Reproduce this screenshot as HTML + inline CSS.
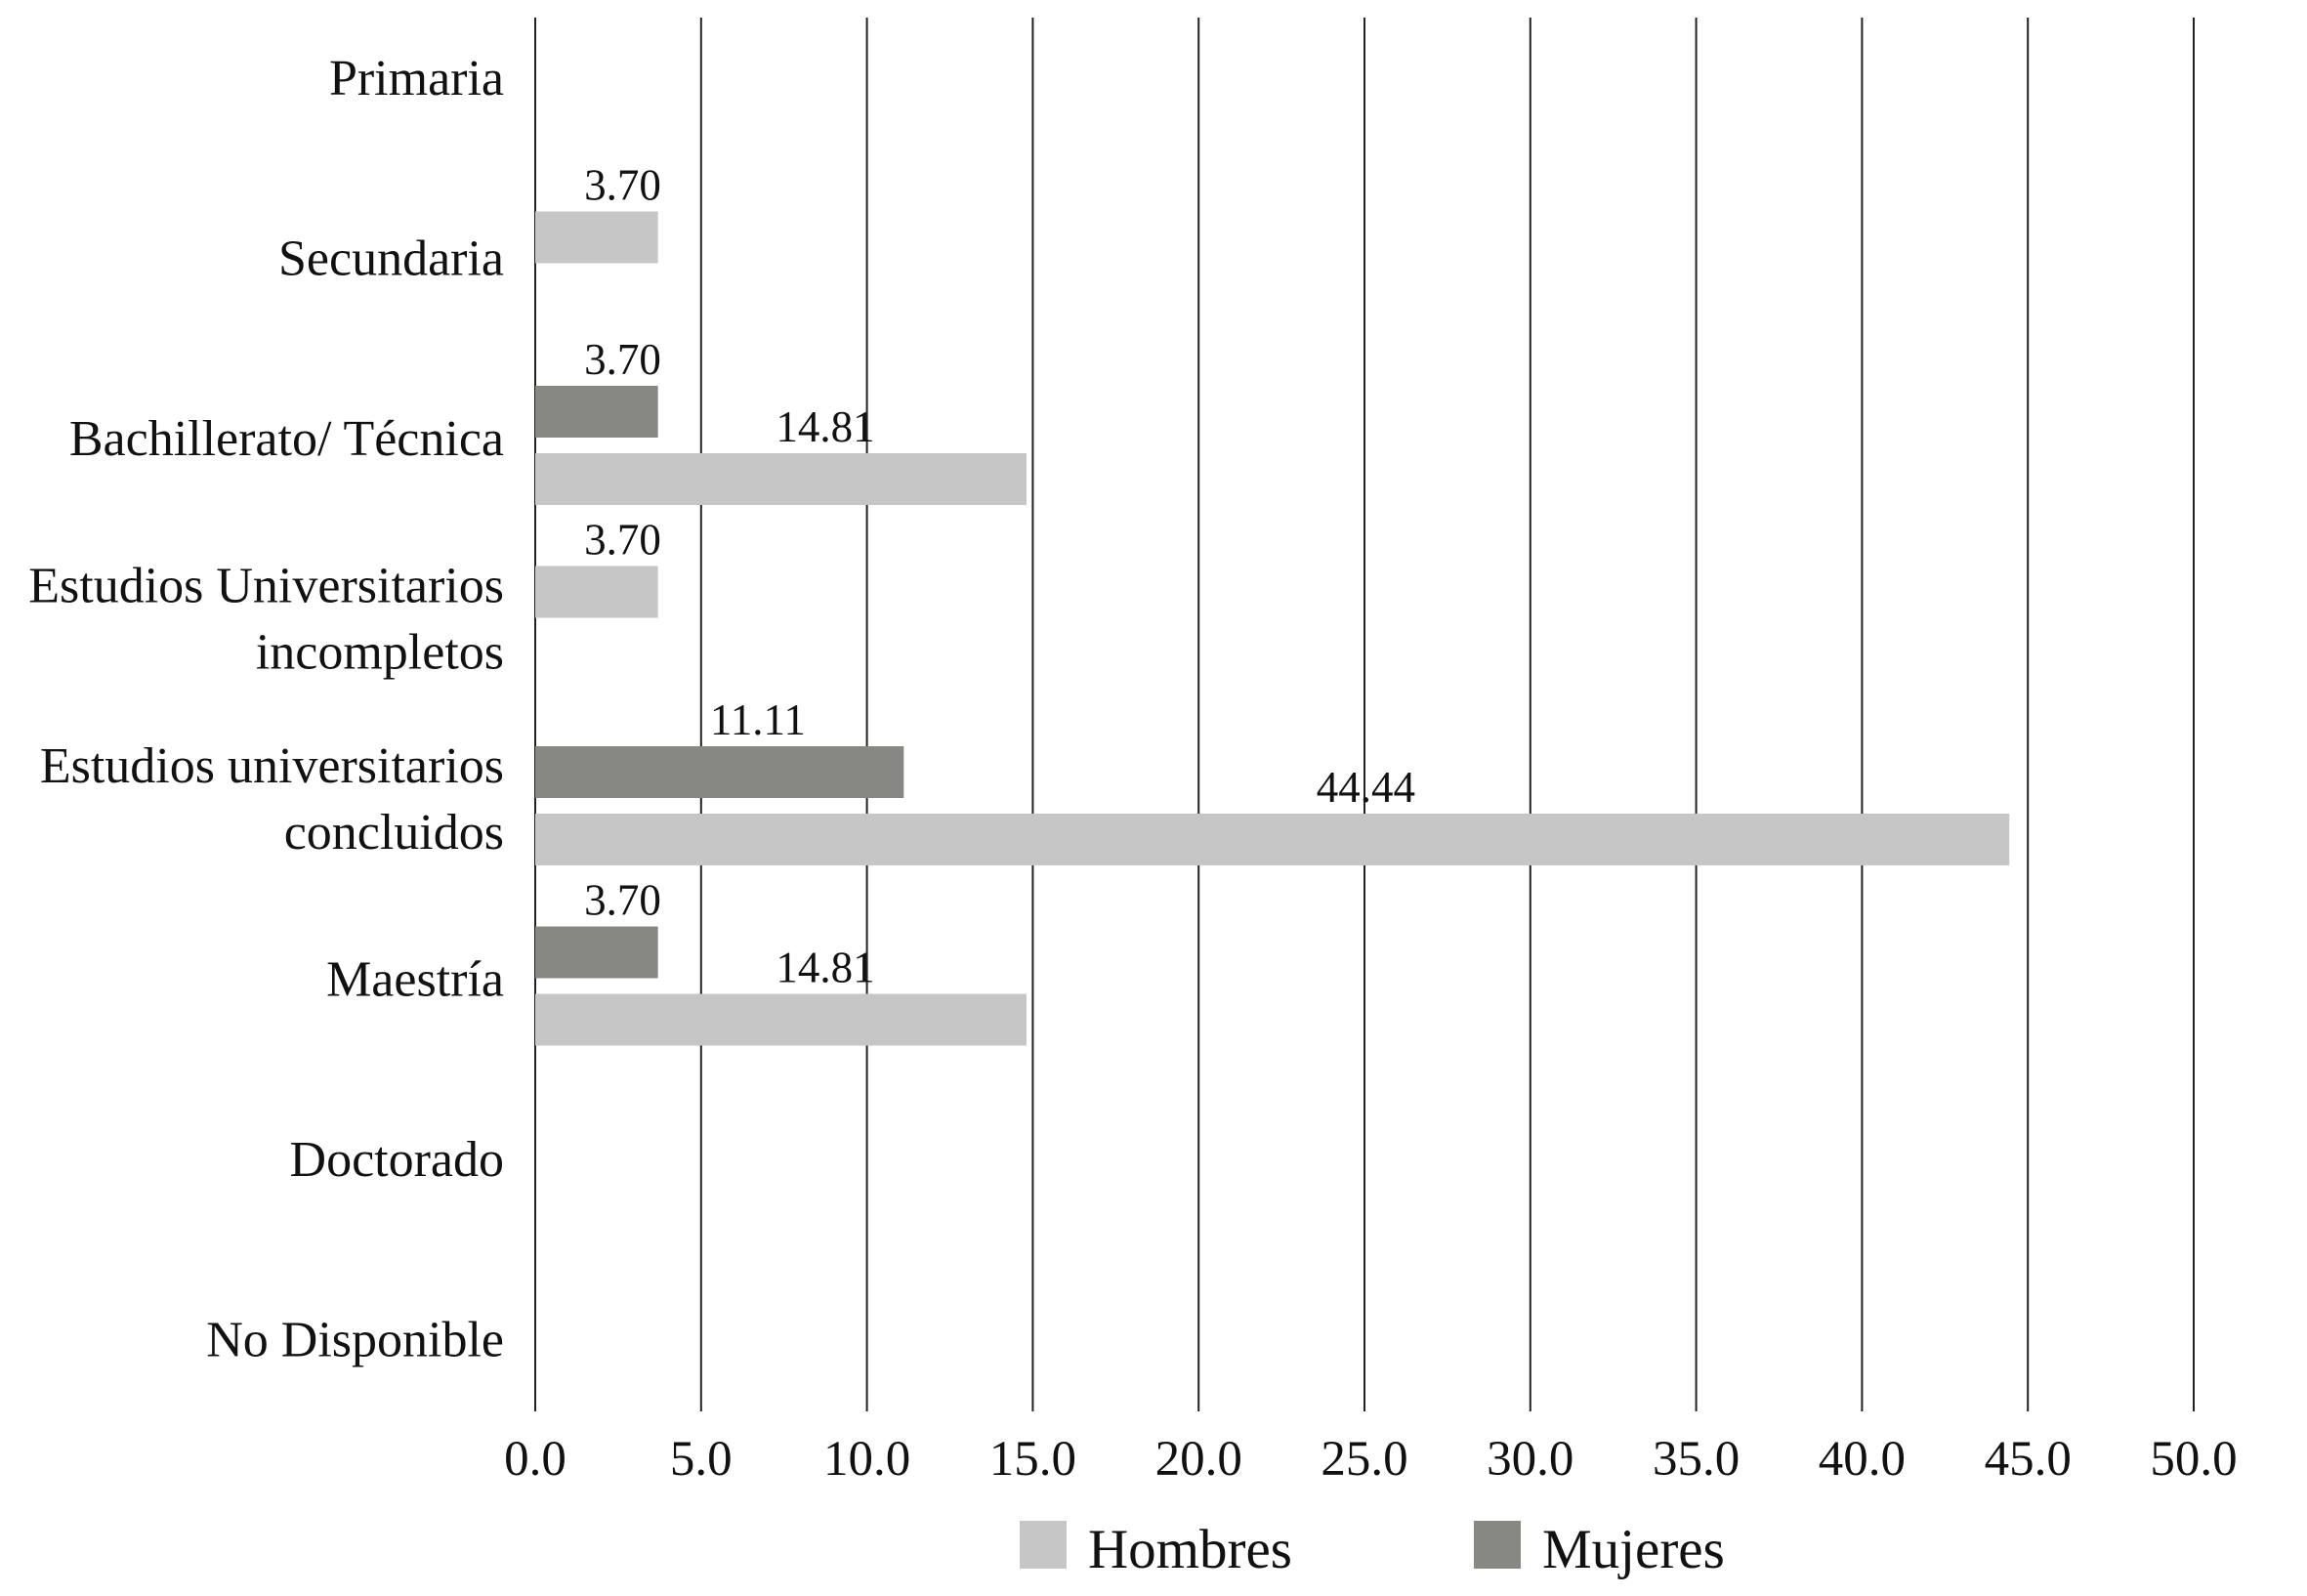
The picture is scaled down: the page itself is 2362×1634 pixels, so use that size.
<!DOCTYPE html>
<html><head><meta charset="utf-8"><style>
html,body{margin:0;padding:0;background:#fff;}
svg{display:block;font-family:"Liberation Serif",serif;}
</style></head><body>
<svg id="chart" width="2362" height="1634" viewBox="0 0 2362 1634" xmlns="http://www.w3.org/2000/svg"></svg>
<script>
const categories = [["Primaria"],["Secundaria"],["Bachillerato/ Técnica"],["Estudios Universitarios","incompletos"],["Estudios universitarios","concluidos"],["Maestría"],["Doctorado"],["No Disponible"]];
const upperValues = [null,3.70,3.70,3.70,11.11,3.70,null,null];
const upperSeries = [null,"Hombres","Mujeres","Hombres","Mujeres","Mujeres",null,null];
const lowerValues = [null,null,14.81,null,44.44,14.81,null,null];
const ticks = [0,5,10,15,20,25,30,35,40,45,50];
const tickLabels = ["0.0","5.0","10.0","15.0","20.0","25.0","30.0","35.0","40.0","45.0","50.0"];
const legendNames = ["Hombres","Mujeres"];

const NS="http://www.w3.org/2000/svg";
const svg=document.getElementById('chart');
const colors={Hombres:"#c6c6c6",Mujeres:"#878784"};
const x0=548,x1=2246,yTop=18,yBot=1445;
const xs=v=>x0+(v-0)/(50-0)*(x1-x0);
const slotTop=k=>(k==1?32:26)+184.5*k;
const labelY=k=>80+184.5*k;
const BH=53;
function mk(tag,attrs,text){const e=document.createElementNS(NS,tag);for(const k in attrs)e.setAttribute(k,attrs[k]);if(text!=null)e.textContent=text;svg.appendChild(e);return e;}

ticks.forEach((t,i)=>{
  const g=mk('line',{x1:xs(t),x2:xs(t),y1:yTop,y2:yBot,stroke:"#222","stroke-width":2});
  
  
  const tl=mk('text',{x:xs(t),y:1510,"font-size":51,"text-anchor":"middle",fill:"#111"},tickLabels[i]);
  
  
});

categories.forEach((lines,k)=>{
  const cy=labelY(k);
  const n=lines.length;
  lines.forEach((ln,j)=>{
    const t=mk('text',{x:516,y:cy+17+(j-(n-1)/2)*68,"font-size":52,"text-anchor":"end",fill:"#111"},ln);
    
    
  });
});

function bar(v,top,series){
  if(v==null)return;
  const r=mk('rect',{x:xs(0),y:top,width:xs(v)-xs(0),height:BH,fill:colors[series]});
  
  
  const lx=xs(v*0.55+0.6);
  const t=mk('text',{x:lx,y:top-12,"font-size":45,"text-anchor":"middle",fill:"#111"},v.toFixed(2));
  
  
}
categories.forEach((c,k)=>{
  bar(upperValues[k],slotTop(k),upperSeries[k]||"Mujeres");
  bar(lowerValues[k],slotTop(k)+69,"Hombres");
});

legendNames.forEach((nm,i)=>{
  const lx=1044+i*465;
  const s=mk('rect',{x:lx,y:1557,width:48,height:49,fill:colors[nm]});
  
  
  const t=mk('text',{x:lx+70,y:1605,"font-size":57,fill:"#111"},nm);
  
  
});
</script>
</body></html>
